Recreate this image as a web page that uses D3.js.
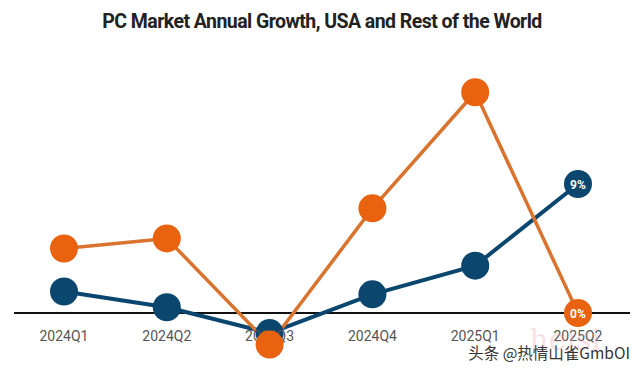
<!DOCTYPE html>
<html><head><meta charset="utf-8">
<script src="https://cdn.jsdelivr.net/npm/d3@7"></script>
<style>body{margin:0;background:#fff}svg{display:block}</style>
</head><body>
<script>
const categories = ["2024Q1","2024Q2","2024Q3","2024Q4","2025Q1","2025Q2"];
const usa = [1.5, 0.4, -1.4, 1.3, 3.3, 9];
const rest = [4.5, 5.2, -2.2, 7.3, 15.4, 0];
const lastLabelsUSA = "9%";
const lastLabelsRest = "0%";
const title = "PC Market Annual Growth, USA and Rest of the World";

const W = 640, H = 373;
const svg = d3.select("body").append("svg").attr("width", W).attr("height", H);

const x = d3.scalePoint().domain(categories).range([64, 578]);
const y = d3.scaleLinear().domain([0, 9]).range([313, 184]);

svg.append("text").attr("x", 322).attr("y", 28).attr("text-anchor", "middle")
  .attr("font-family", "Roboto, sans-serif").attr("font-weight", "bold")
  .attr("font-size", 21).attr("fill", "#222").attr("letter-spacing", -0.6)
  .attr("transform", "translate(322,0) scale(0.93,1) translate(-322,0)")
  .text(title);

// zero line
svg.append("line").attr("x1", 14).attr("x2", 630).attr("y1", y(0)).attr("y2", y(0))
  .attr("stroke", "#111").attr("stroke-width", 2);

const line = d3.line().x((d, i) => x(categories[i])).y(d => y(d));
const blue = "#0B466F", orange = "#E8620F", orangeLine = "#D9732E";

svg.append("path").datum(usa).attr("d", line).attr("fill", "none")
  .attr("stroke", blue).attr("stroke-width", 4);
svg.append("path").datum(rest).attr("d", line).attr("fill", "none")
  .attr("stroke", orangeLine).attr("stroke-width", 3.5);

svg.selectAll("circle.usa").data(usa).enter().append("circle").attr("class", "usa")
  .attr("cx", (d, i) => x(categories[i])).attr("cy", d => y(d)).attr("r", 14)
  .attr("fill", blue);

// axis labels
svg.selectAll("text.cat").data(categories).enter().append("text").attr("class", "cat")
  .attr("x", d => x(d)).attr("y", 341).attr("text-anchor", "middle")
  .attr("font-family", "Roboto, sans-serif").attr("font-size", 14).attr("fill", "#555")
  .text(d => d);

svg.selectAll("circle.rest").data(rest).enter().append("circle").attr("class", "rest")
  .attr("cx", (d, i) => x(categories[i])).attr("cy", d => y(d)).attr("r", 14)
  .attr("fill", orange);

svg.append("text").attr("x", x(categories[5])).attr("y", y(usa[5]) + 4.5)
  .attr("text-anchor", "middle").attr("font-family", "Roboto, sans-serif")
  .attr("font-weight", "bold").attr("font-size", 12).attr("fill", "#fff").text(lastLabelsUSA);
svg.append("text").attr("x", x(categories[5])).attr("y", y(rest[5]) + 4.5)
  .attr("text-anchor", "middle").attr("font-family", "Roboto, sans-serif")
  .attr("font-weight", "bold").attr("font-size", 12).attr("fill", "#fff").text(lastLabelsRest);

// watermarks
svg.append("text").attr("x", 565).attr("y", 350).attr("text-anchor", "middle")
  .attr("font-family", "DejaVu Serif, serif").attr("font-size", 30).attr("fill", "#e8a0b0")
  .attr("opacity", 0.3).text("heisi");
svg.append("text").attr("x", 630).attr("y", 359).attr("text-anchor", "end")
  .attr("font-family", "Noto Sans CJK SC, sans-serif").attr("font-size", 15.5).attr("fill", "#333")
  .text("头条 @热情山雀GmbOI");
</script>
</body></html>
